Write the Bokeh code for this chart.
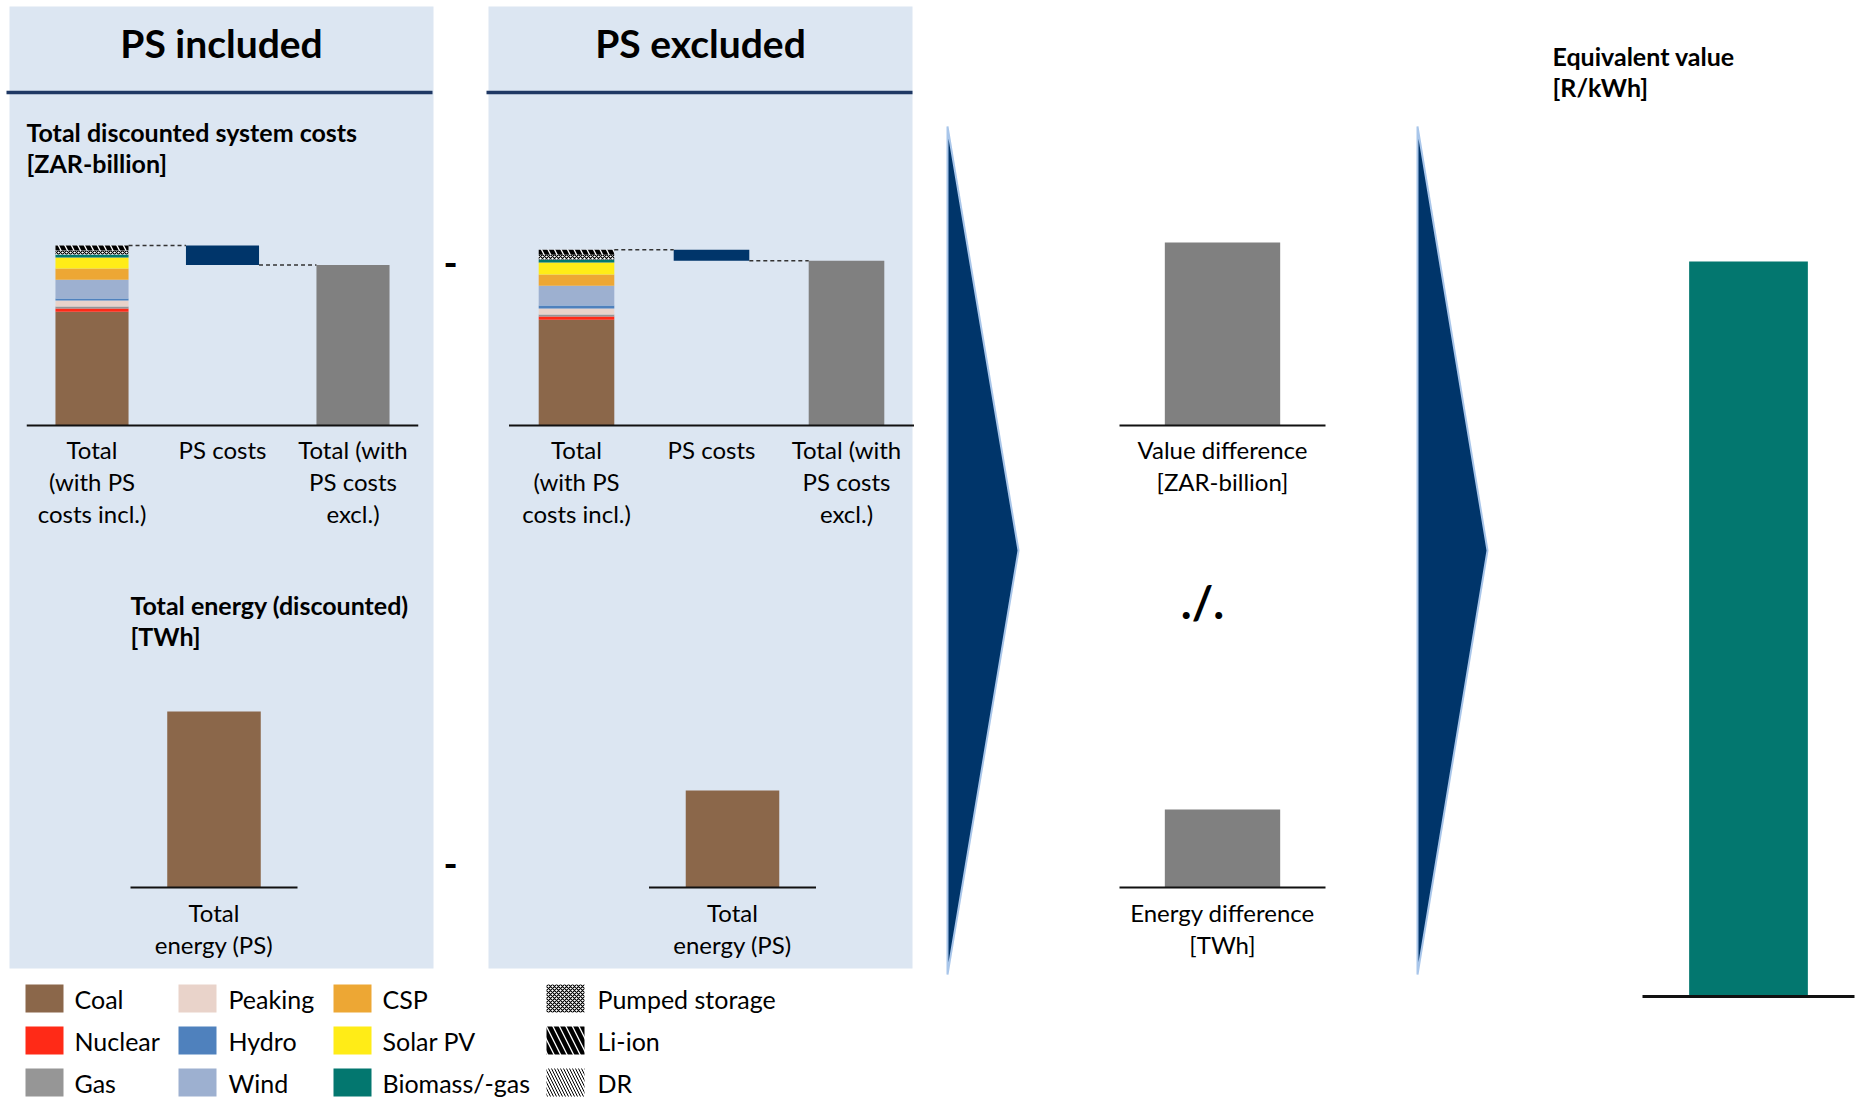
from bokeh.plotting import figure
from bokeh.models import Range1d
from bokeh.core.properties import value
from bokeh.embed import file_html
from bokeh.resources import INLINE

# ---------------- data ----------------
techs = ["Coal", "Nuclear", "Gas", "Peaking", "Hydro", "Wind", "CSP", "Solar PV",
         "Biomass/-gas", "Pumped storage", "Li-ion", "DR"]
# stacked total system cost by technology (bottom -> top), ZAR-billion
cost_ps_included = [1137, 33, 20, 60, 20, 187, 113, 110, 30, 40, 50, 0]
cost_ps_excluded = [1057, 33, 20, 60, 30, 197, 113, 120, 30, 47, 50, 0]
ps_costs_included = 195
ps_costs_excluded = 110
cost_categories = ["Total\n(with PS\ncosts incl.)", "PS costs", "Total (with\nPS costs\nexcl.)"]

energy_categories = ["Total\nenergy (PS)"]
energy_ps_included = [176]
energy_ps_excluded = [97]

value_difference = [183]
value_diff_categories = ["Value difference\n[ZAR-billion]"]
energy_difference = [78]
energy_diff_categories = ["Energy difference\n[TWh]"]
equivalent_value = [735]

# ---------------- styles ----------------
tech_colors = ["#8B674A", "#FF2A17", "#969696", "#E9D3CA", "#4F81BD", "#9DB0D0",
               "#EDA734", "#FFEC17", "#03776F", "white", "white", "white"]
tech_hatch = [" "] * 9 + ["diagonal_cross", "left_diagonal_line", "left_diagonal_line"]
tech_hatch_scale = [12] * 9 + [4, 13, 6]
tech_hatch_weight = [1] * 9 + [1.2, 4.5, 1]
FONT = value("Lato")
NAVY = "#00356A"
PANEL = "#DCE6F2"
GREY_BAR = "#808080"

W, H = 1858, 1101
p = figure(width=W, height=H, x_range=Range1d(0, W), y_range=Range1d(H, 0),
           output_backend="svg", toolbar_location=None, min_border=0,
           x_axis_type=None, y_axis_type=None)
p.grid.visible = False
p.outline_line_color = None
p.background_fill_color = "white"
p.border_fill_color = "white"


def chart(name, x0, dx, base, k):
    """category index 0 centred at screen x0, dx px per category; value 0 at base, k px per unit"""
    s = -x0 / dx
    p.extra_x_ranges[name] = Range1d(start=s, end=s + W / dx)
    sy = (base - H) / k
    p.extra_y_ranges[name] = Range1d(start=sy, end=sy + H / k)
    return dict(x_range_name=name, y_range_name=name)


def labels(name, cats, base, offset=24, step=32):
    for i, c in enumerate(cats):
        for j, line in enumerate(c.split("\n")):
            p.text(x=[i], y=[base + offset + step * j], text=[line], x_range_name=name,
                   text_font=FONT, text_font_size="24px", text_align="center",
                   text_baseline="middle", text_color="black")


def baseline(rn, ncat, lw=2):
    p.segment(x0=[-0.5], y0=[0], x1=[ncat - 0.5], y1=[0], line_color="#111111",
              line_width=lw, **rn)


# ---------------- panels ----------------
p.quad(left=[9, 488], right=[433, 912], top=[6, 6], bottom=[968, 968],
       fill_color=PANEL, line_color=None)
p.segment(x0=[6, 486], y0=[92, 92], x1=[432, 912], y1=[92, 92], line_color="#1F3864",
          line_width=3.5)
p.text(x=[221, 700], y=[42, 42], text=["PS included", "PS excluded"], text_font=FONT,
       text_font_style="bold", text_font_size="39px", text_align="center",
       text_baseline="middle")
p.text(x=[26, 26], y=[131, 162], text=["Total discounted system costs", "[ZAR-billion]"],
       text_font=FONT, text_font_style="bold", text_font_size="25px", text_baseline="middle")
p.text(x=[130, 130], y=[604, 635], text=["Total energy (discounted)", "[TWh]"],
       text_font=FONT, text_font_style="bold", text_font_size="25px", text_baseline="middle")
p.text(x=[1552, 1552], y=[55, 86], text=["Equivalent value", "[R/kWh]"],
       text_font=FONT, text_font_style="bold", text_font_size="25px", text_baseline="middle")
p.text(x=[450, 450], y=[262, 863], text=["-", "-"], text_font=FONT, text_font_style="bold",
       text_font_size="38px", text_align="center", text_baseline="middle")
p.text(x=[1202], y=[601], text=["./."], text_font=FONT, text_font_style="bold",
       text_font_size="46px", text_align="center", text_baseline="middle")

# ---------------- cost waterfalls ----------------
BW = 0.56
for name, x0, dx, stack, ps in [("c1", 91.5, 130.5, cost_ps_included, ps_costs_included),
                                ("c2", 576, 135, cost_ps_excluded, ps_costs_excluded)]:
    rn = chart(name, x0, dx, 425, 0.1)
    bottom = 0
    for v, col, h, hs, hw in zip(stack, tech_colors, tech_hatch, tech_hatch_scale, tech_hatch_weight):
        if v > 0:
            p.vbar(x=[0], bottom=[bottom], top=[bottom + v], width=BW, fill_color=col,
                   line_color=None, hatch_pattern=h, hatch_scale=hs, hatch_weight=hw,
                   hatch_color="black", **rn)
        bottom += v
    total = bottom
    excl = total - ps
    p.vbar(x=[1], bottom=[excl], top=[total], width=BW, fill_color=NAVY, line_color=None, **rn)
    p.vbar(x=[2], bottom=[0], top=[excl], width=BW, fill_color=GREY_BAR, line_color=None, **rn)
    p.segment(x0=[BW / 2, 1 + BW / 2], y0=[total, excl], x1=[1 - BW / 2, 2 - BW / 2],
              y1=[total, excl], line_color="#333333", line_width=1.5, line_dash="4 3", **rn)
    baseline(rn, 3)
    labels(name, cost_categories, 425)

# ---------------- energy bars ----------------
for name, x0, vals in [("e1", 213.5, energy_ps_included), ("e2", 732, energy_ps_excluded)]:
    rn = chart(name, x0, 167, 887, 1)
    p.vbar(x=[0], bottom=[0], top=vals, width=BW, fill_color=tech_colors[0], line_color=None, **rn)
    baseline(rn, 1)
    labels(name, energy_categories, 887, offset=25)

# ---------------- differences ----------------
rn = chart("vd", 1222, 206, 425, 1)
p.vbar(x=[0], bottom=[0], top=value_difference, width=BW, fill_color=GREY_BAR, line_color=None, **rn)
baseline(rn, 1)
labels("vd", value_diff_categories, 425)

rn = chart("ed", 1222, 206, 887, 1)
p.vbar(x=[0], bottom=[0], top=energy_difference, width=BW, fill_color=GREY_BAR, line_color=None, **rn)
baseline(rn, 1)
labels("ed", energy_diff_categories, 887, offset=25)

# ---------------- equivalent value ----------------
rn = chart("eq", 1748, 212, 996, 1)
p.vbar(x=[0], bottom=[0], top=equivalent_value, width=BW, fill_color="#03776F", line_color=None, **rn)
baseline(rn, 1, lw=3)

# ---------------- arrows ----------------
for xl, xt in [(947, 1018), (1417, 1487)]:
    p.patch(x=[xl, xt, xl], y=[126, 550, 974], fill_color=NAVY, line_color="#A9C6EA",
            line_width=2)

# ---------------- legend ----------------
sw_left = [25, 178, 333, 546]
txt_left = [74, 228, 382, 597]
row_y = [998, 1040, 1082]
for idx, t in enumerate(techs):
    c, r = divmod(idx, 3)
    p.quad(left=[sw_left[c]], right=[sw_left[c] + 38], top=[row_y[r] - 14],
           bottom=[row_y[r] + 14], fill_color=tech_colors[idx], line_color=None,
           hatch_pattern=tech_hatch[idx], hatch_scale=tech_hatch_scale[idx],
           hatch_weight=tech_hatch_weight[idx], hatch_color="black")
    p.text(x=[txt_left[c]], y=[row_y[r]], text=[t], text_font=FONT, text_font_size="25px",
           text_baseline="middle", text_color="black")

open("out.html", "w").write(file_html(p, INLINE))
